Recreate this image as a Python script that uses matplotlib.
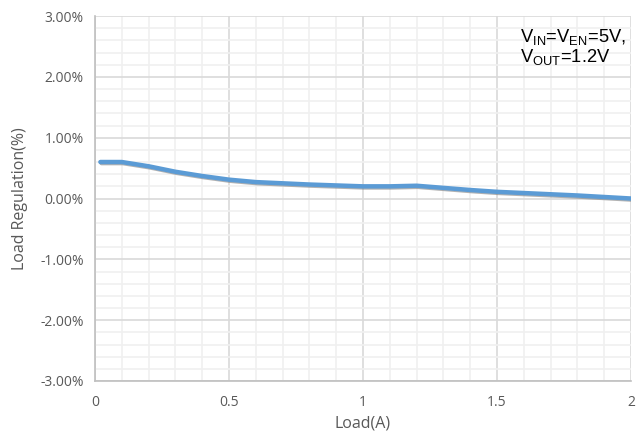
import numpy as np
import matplotlib
matplotlib.use('Agg')
import matplotlib.pyplot as plt
import matplotlib.patheffects as pe
from matplotlib.ticker import MultipleLocator, FuncFormatter

# Load regulation data
load_a = [0.02, 0.1, 0.2, 0.3, 0.4, 0.5, 0.6, 0.7, 0.8, 0.9, 1.0, 1.1, 1.2, 1.3, 1.4, 1.5, 1.6, 1.7, 1.8, 1.9, 2.0]
regulation = [0.60, 0.60, 0.53, 0.44, 0.37, 0.31, 0.27, 0.25, 0.23, 0.215, 0.20, 0.20, 0.21, 0.175, 0.14, 0.11, 0.09, 0.07, 0.05, 0.025, 0.0]

plt.rcParams['mathtext.fontset'] = 'custom'
plt.rcParams['mathtext.rm'] = 'Liberation Sans'
plt.rcParams['mathtext.it'] = 'Liberation Sans'

fig = plt.figure(figsize=(6.36, 4.45), dpi=100)
ax = fig.add_axes([95/636, 1 - 381/445, 536/636, 365/445])

ax.plot(load_a, regulation, color='#5B9BD5', linewidth=3.2, solid_capstyle='round',
        path_effects=[pe.SimpleLineShadow(offset=(0.8, -0.8), shadow_color='#7f7f7f', alpha=0.6),
                      pe.Normal()], zorder=3)

ax.set_xlim(0, 2)
ax.set_ylim(-3, 3)
ax.xaxis.set_major_locator(MultipleLocator(0.5))
ax.xaxis.set_minor_locator(MultipleLocator(0.1))
ax.yaxis.set_major_locator(MultipleLocator(1))
ax.yaxis.set_minor_locator(MultipleLocator(0.2))
ax.xaxis.set_major_formatter(FuncFormatter(lambda v, p: '%g' % v))
ax.yaxis.set_major_formatter(FuncFormatter(lambda v, p: '%.2f%%' % v))

ax.grid(True, which='major', color='#D9D9D9', linewidth=1.2)
ax.grid(True, which='minor', color='#F0F0F0', linewidth=1.2)
ax.set_axisbelow(True)

for s in ['top', 'right']:
    ax.spines[s].set_visible(False)
for s in ['left', 'bottom']:
    ax.spines[s].set_color('#BFBFBF')
    ax.spines[s].set_linewidth(1.2)

ax.tick_params(which='both', length=0, colors='#595959', labelsize=10)
ax.tick_params(axis='x', pad=10)
ax.tick_params(axis='y', pad=8)
for lab in ax.get_xticklabels() + ax.get_yticklabels():
    lab.set_fontfamily('Open Sans')

ax.set_xlabel('Load(A)', fontsize=11.5, color='#595959', fontfamily='Open Sans', labelpad=4)
ax.set_ylabel('Load Regulation(%)', fontsize=11.5, color='#595959', fontfamily='Open Sans', labelpad=9)

note = 'V$_{\\mathregular{IN}}$=V$_{\\mathregular{EN}}$=5V,\nV$_{\\mathregular{OUT}}$=1.2V'
ax.text(0.792, 0.97, note, transform=ax.transAxes, fontsize=13.2, fontfamily='Liberation Sans',
        color='black', va='top', ha='left', linespacing=1.0)

fig.savefig('out.png', dpi=100)
